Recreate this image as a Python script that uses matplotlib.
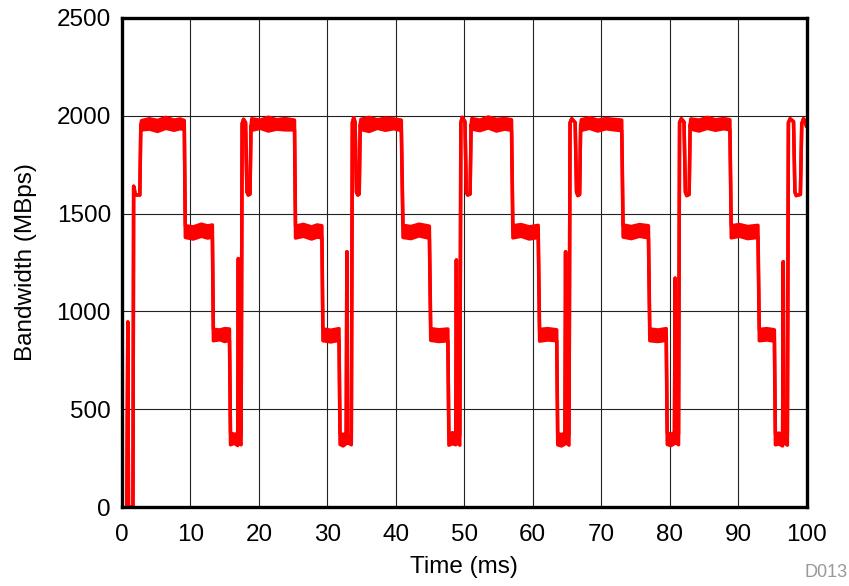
import matplotlib
matplotlib.use('Agg')
from matplotlib import pyplot as plt

# Knots of the bandwidth trace (time in ms, MBps).
# bw_low / bw_high give the lower and upper edge of the noisy band;
# where both are equal the trace is a single line.
time_ms = [
    # start-up
    0.7, 0.85, 0.95, 1.6, 1.7, 1.8, 1.95, 2.6, 2.75,
    2.85, 4.0, 5.2, 6.4, 7.6, 8.5, 9.1,
    9.25, 10.4, 11.6, 12.5, 13.2,
    13.35, 14.3, 15.0, 15.7,
    15.85, 16.4, 16.9, 17.0, 17.1, 17.4,
    17.55, 17.75, 18.05, 18.25, 18.45, 18.7, 18.85,
    # period 2
    18.95, 20.2, 21.4, 22.6, 23.8, 25.2,
    25.35, 26.5, 27.7, 28.5, 29.2,
    29.35, 30.5, 31.7,
    31.85, 32.3, 32.75, 32.85, 32.95, 33.5,
    33.65, 33.85, 34.05, 34.25, 34.45, 34.65, 34.8,
    # period 3
    34.9, 36.1, 37.3, 38.5, 39.7, 40.8,
    41.05, 42.2, 43.4, 44.9,
    45.1, 46.3, 47.6,
    47.75, 48.3, 48.75, 48.85, 48.95, 49.35,
    49.5, 49.7, 50.1, 50.3, 50.5, 50.85, 51.0,
    # period 4
    51.1, 52.3, 53.5, 54.7, 55.9, 56.9,
    57.1, 58.3, 59.5, 60.8,
    61.0, 62.2, 63.5,
    63.65, 64.2, 64.7, 64.8, 64.9, 65.3,
    65.45, 65.7, 66.2, 66.4, 66.6, 66.85, 67.0,
    # period 5
    67.1, 68.3, 69.5, 70.7, 71.9, 73.0,
    73.2, 74.4, 75.6, 76.9,
    77.1, 78.3, 79.5,
    79.65, 80.2, 80.7, 80.8, 80.9, 81.3,
    81.45, 81.7, 82.1, 82.3, 82.5, 82.85, 83.0,
    # period 6
    83.1, 84.3, 85.5, 86.7, 87.9, 88.8,
    89.0, 90.2, 91.4, 92.9,
    93.1, 94.2, 95.3,
    95.45, 96.0, 96.5, 96.6, 96.7, 97.2,
    97.35, 97.6, 98.1, 98.3, 98.5, 99.1, 99.3,
    99.55, 99.8, 100.0,
]

bw_low = [
    0, 946, 0, 0, 1640, 1625, 1595, 1595, 1955,
    1928, 1932, 1920, 1936, 1926, 1934, 1930,
    1378, 1370, 1384, 1375, 1380,
    850, 855, 846, 852,
    318, 326, 314, 1270, 330, 318,
    1960, 1982, 1965, 1610, 1595, 1600, 1950,
    1926, 1936, 1922, 1932, 1928, 1928,
    1375, 1384, 1370, 1380, 1376,
    850, 844, 852,
    320, 312, 324, 1305, 330, 318,
    1965, 1990, 1968, 1610, 1595, 1600, 1955,
    1930, 1920, 1936, 1926, 1934, 1925,
    1378, 1372, 1386, 1374,
    852, 846, 850,
    316, 324, 318, 1263, 330, 316,
    1965, 1992, 1970, 1610, 1595, 1600, 1955,
    1932, 1924, 1938, 1922, 1932, 1926,
    1376, 1384, 1370, 1378,
    848, 854, 850,
    318, 312, 322, 1305, 330, 316,
    1965, 1985, 1965, 1610, 1592, 1598, 1950,
    1926, 1936, 1922, 1934, 1928, 1924,
    1380, 1372, 1384, 1376,
    850, 846, 852,
    320, 314, 324, 1170, 330, 318,
    1965, 1985, 1968, 1610, 1592, 1598, 1955,
    1932, 1922, 1936, 1926, 1934, 1928,
    1376, 1384, 1372, 1378,
    850, 854, 848,
    318, 322, 312, 1254, 330, 316,
    1965, 1985, 1970, 1610, 1592, 1598, 1960,
    1985, 1970, 1945,
]

bw_high = [
    0, 946, 0, 0, 1640, 1625, 1595, 1595, 1955,
    1975, 1985, 1976, 1992, 1978, 1984, 1976,
    1438, 1432, 1446, 1437, 1442,
    908, 905, 912, 910,
    378, 372, 375, 1270, 330, 372,
    1960, 1982, 1965, 1610, 1595, 1600, 1950,
    1985, 1978, 1993, 1980, 1986, 1978,
    1436, 1445, 1432, 1442, 1438,
    910, 904, 912,
    376, 370, 378, 1305, 330, 372,
    1965, 1990, 1968, 1610, 1595, 1600, 1955,
    1982, 1992, 1980, 1988, 1984, 1978,
    1440, 1434, 1446, 1436,
    912, 906, 910,
    374, 380, 372, 1263, 330, 370,
    1965, 1992, 1970, 1610, 1595, 1600, 1955,
    1986, 1978, 1994, 1982, 1986, 1980,
    1438, 1444, 1432, 1440,
    908, 912, 906,
    376, 370, 378, 1305, 330, 372,
    1965, 1985, 1965, 1610, 1592, 1598, 1950,
    1980, 1990, 1978, 1986, 1982, 1978,
    1442, 1434, 1444, 1438,
    910, 905, 912,
    378, 372, 380, 1170, 330, 372,
    1965, 1985, 1968, 1610, 1592, 1598, 1955,
    1984, 1978, 1992, 1980, 1986, 1980,
    1438, 1444, 1434, 1440,
    908, 912, 906,
    374, 378, 370, 1254, 330, 372,
    1965, 1985, 1970, 1610, 1592, 1598, 1960,
    1985, 1970, 1945,
]

x_ticks = [0, 10, 20, 30, 40, 50, 60, 70, 80, 90, 100]
y_ticks = [0, 500, 1000, 1500, 2000, 2500]


def render():
    plt.rcParams['font.family'] = ['Liberation Sans', 'DejaVu Sans']
    fig = plt.figure(figsize=(8.49, 5.86), dpi=100)
    ax = fig.add_axes([0.1437, 0.1348, 0.8063, 0.8345])

    # Noisy band plus its edges.
    ax.fill_between(time_ms, bw_low, bw_high, facecolor='#ff0000', linewidth=0)
    for edge in (bw_low, bw_high):
        ax.plot(time_ms, edge, color='#ff0000', linewidth=2.5,
                solid_joinstyle='round', solid_capstyle='round')

    ax.set_xlim(0, 100)
    ax.set_ylim(0, 2500)
    ax.set_xticks(x_ticks)
    ax.set_yticks(y_ticks)
    ax.grid(True, color='#222222', linewidth=0.8)
    ax.set_axisbelow(True)
    ax.tick_params(axis='both', length=0, labelsize=17.5, colors='black')
    ax.tick_params(axis='x', pad=12)
    ax.tick_params(axis='y', pad=8)
    for spine in ax.spines.values():
        spine.set_linewidth(2.4)
        spine.set_color('black')

    ax.set_xlabel('Time (ms)', fontsize=17.5)
    ax.set_ylabel('Bandwidth (MBps)', fontsize=17.5)
    ax.xaxis.set_label_coords(0.5, -0.1)
    ax.yaxis.set_label_coords(-0.124, 0.5)

    fig.text(0.998, 0.008, 'D013', color='#999999', fontsize=13,
             ha='right', va='bottom')

    fig.savefig('out.png', dpi=100)


if __name__ == '__main__':
    render()
